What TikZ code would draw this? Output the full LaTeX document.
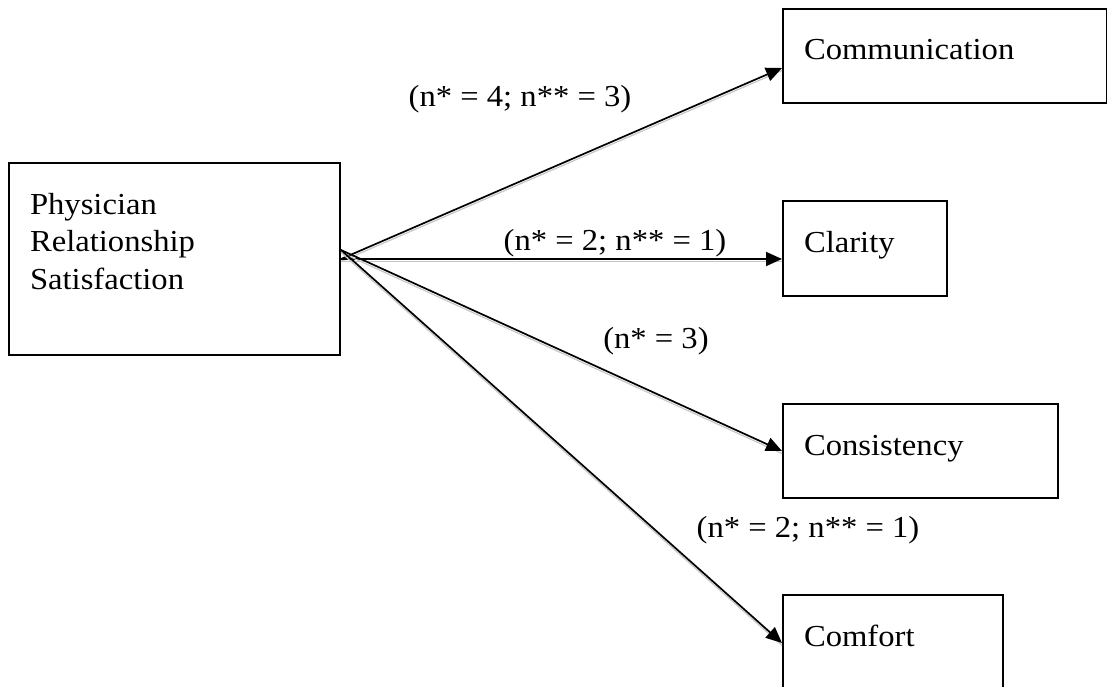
\documentclass[tikz,border=0pt]{standalone}
\usepackage{fontspec}
\setmainfont{Liberation Serif}[FakeStretch=1.07]
\usetikzlibrary{arrows.meta}

\begin{document}
\begin{tikzpicture}[
  x=1pt, y=-1pt,
  font=\fontsize{30.5}{37.5}\selectfont,
  factor/.style={draw,line width=2pt,anchor=north west,
    inner xsep=21pt,inner ysep=0pt,align=left,text height=51pt},
  count/.style={anchor=base},
  arrow/.style={-{Triangle[length=16pt,width=14pt]},line width=1.7pt,
    preaction={draw=black!22,line width=1.2pt,-,transform canvas={yshift=-2.5pt}}}
]
  \useasboundingbox (0,0) rectangle (1107,687);

  \node[factor,text width=289pt,text depth=141pt] (phys) at (8,162)
    {Physician\\Relationship\\Satisfaction};

  \node[factor,text width=282pt,text depth=43pt] (comm) at (782,8) {Communication};
  \node[factor,text width=122pt,text depth=44pt] (clar) at (782,200) {Clarity};
  \node[factor,text width=233pt,text depth=43pt] (cons) at (782,403) {Consistency};
  \node[factor,text width=178pt,text depth=45pt] (comf) at (782,594) {Comfort};

  \draw[arrow] (phys.east) -- ([yshift=-12pt]comm.west);
  \draw[arrow] (phys.east) -- (phys.east -| clar.west);
  \foreach \x in {cons,comf} {
    \draw[arrow] ([yshift=9pt]phys.east) -- (\x.west);
  }

  \node[count] (ncomm) at (520,107) {(n* = 4; n** = 3)};
  \node[count] (nclar) at (615,250) {(n* = 2; n** = 1)};
  \node[count] (ncons) at (656,348) {(n* = 3)};
  \node[count] (ncomf) at (808,537) {(n* = 2; n** = 1)};
\end{tikzpicture}
\end{document}
